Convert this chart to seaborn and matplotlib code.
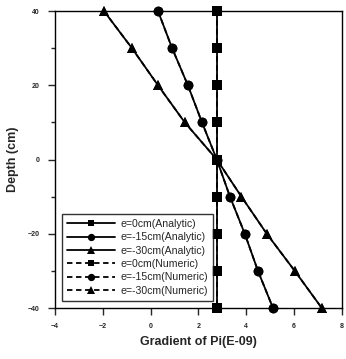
import matplotlib
matplotlib.use("Agg")
import matplotlib.pyplot as plt
import seaborn as sns
import numpy as np
from matplotlib.ticker import MultipleLocator

sns.set_style("ticks")
plt.rcParams['font.family'] = ['Liberation Sans', 'DejaVu Sans']

depth = [40, 30, 20, 10, 0, -10, -20, -30, -40]
grad_e0 = [2.77, 2.77, 2.77, 2.77, 2.77, 2.77, 2.77, 2.77, 2.77]
grad_e15 = [0.31, 0.90, 1.56, 2.15, 2.77, 3.32, 3.94, 4.49, 5.12]
grad_e30 = [-1.95, -0.78, 0.31, 1.43, 2.77, 3.80, 4.86, 6.03, 7.16]
labels_analytic = ["e=0cm(Analytic)", "e=-15cm(Analytic)", "e=-30cm(Analytic)"]
labels_numeric = ["e=0cm(Numeric)", "e=-15cm(Numeric)", "e=-30cm(Numeric)"]

fig = plt.figure(figsize=(3.46, 3.59), dpi=100)
ax = fig.add_axes([0.159, 0.142, 0.829, 0.827])

series = [grad_e0, grad_e15, grad_e30]
markers = ["s", "o", "^"]
msizes = [6.5, 7, 7]
for vals, mk, ms, lab in zip(series, markers, msizes, labels_analytic):
    sns.lineplot(x=vals, y=depth, sort=False, estimator=None, ax=ax, color="black",
                 linewidth=1.3, marker=mk, markersize=ms, markeredgewidth=0,
                 linestyle="-", label=lab, clip_on=False, zorder=3)
for vals, mk, ms, lab in zip(series, markers, msizes, labels_numeric):
    sns.lineplot(x=vals, y=depth, sort=False, estimator=None, ax=ax, color="black",
                 linewidth=1.3, marker=mk, markersize=ms, markeredgewidth=0,
                 linestyle=(0, (3, 2)), label=lab, clip_on=False, zorder=3)

ax.set_xlim(-4, 8)
ax.set_ylim(-40, 40)
ax.xaxis.set_major_locator(MultipleLocator(2))
ax.yaxis.set_major_locator(MultipleLocator(20))
ax.yaxis.set_minor_locator(MultipleLocator(10))
ax.tick_params(axis='both', which='major', direction='out', length=5, width=1,
               labelsize=5, pad=6)
ax.tick_params(axis='y', which='minor', direction='out', length=3, width=1)
for lbl in ax.get_xticklabels() + ax.get_yticklabels():
    lbl.set_fontweight('bold')
for sp in ax.spines.values():
    sp.set_visible(True)
    sp.set_linewidth(1.0)
    sp.set_color("black")

ax.set_xlabel("Gradient of Pi(E-09)", fontsize=9, fontweight='bold', labelpad=4)
ax.set_ylabel("Depth (cm)", fontsize=9, fontweight='bold', labelpad=6)

leg = ax.legend(loc='lower left', bbox_to_anchor=(0.025, 0.025), fontsize=7.6,
                frameon=True, fancybox=False, handlelength=4.6, handletextpad=0.5,
                labelspacing=0.32, borderpad=0.45, borderaxespad=0, markerscale=0.75)
leg.get_frame().set_edgecolor("black")
leg.get_frame().set_linewidth(1.0)
leg.set_zorder(5)

fig.savefig("out.png", dpi=100)
